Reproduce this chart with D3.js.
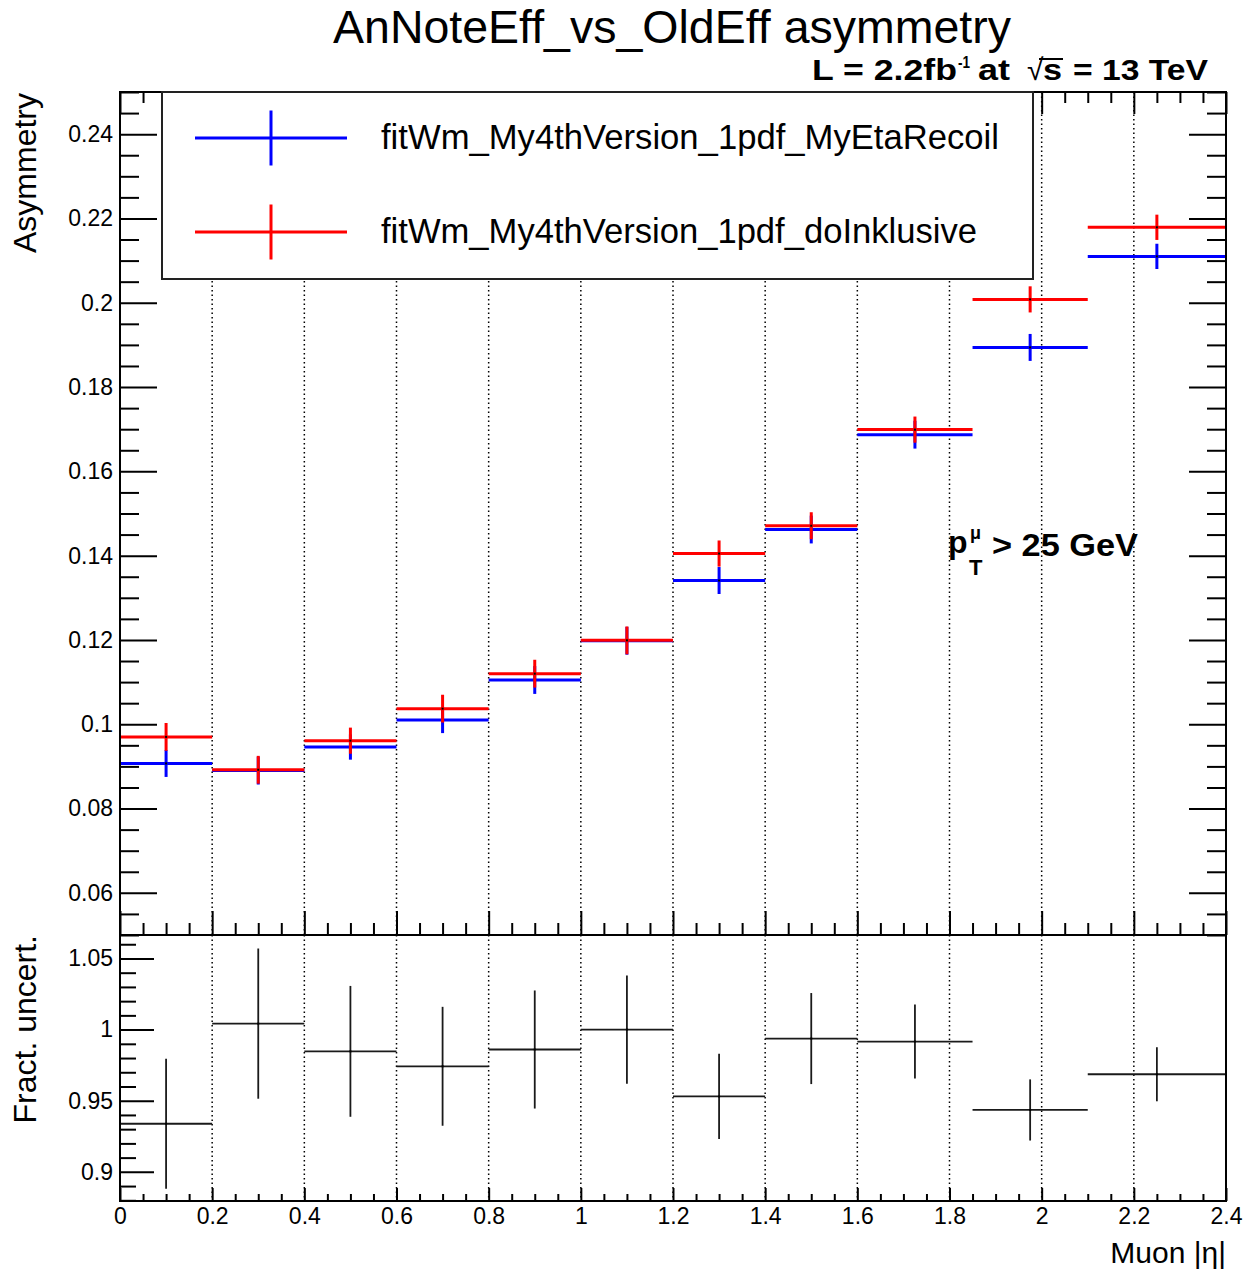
<!DOCTYPE html>
<html><head><meta charset="utf-8">
<script src="https://cdn.jsdelivr.net/npm/d3@7"></script>
<style>
body{margin:0;background:#fff}
text{font-family:"Liberation Sans",Arial,Helvetica,sans-serif}
</style>
</head><body>
<svg id="c" width="1244" height="1271"></svg>
<script>
// ---------- data ----------
const binEdges   = [0, 0.2, 0.4, 0.6, 0.8, 1.0, 1.2, 1.4, 1.6, 1.85, 2.1, 2.4];
const binCenters = [0.1, 0.3, 0.5, 0.7, 0.9, 1.1, 1.3, 1.5, 1.725, 1.975, 2.25];
const asymMyEtaRecoil    = [0.0907, 0.0890, 0.0946, 0.1010, 0.1105, 0.1198, 0.1341, 0.1462, 0.1687, 0.1894, 0.2110];
const asymMyEtaRecoilErr = [0.0032, 0.0033, 0.0030, 0.0031, 0.0033, 0.0033, 0.0032, 0.0033, 0.0033, 0.0032, 0.0030];
const asymDoInklusive    = [0.0970, 0.0892, 0.0961, 0.1037, 0.1120, 0.1199, 0.1405, 0.1471, 0.1699, 0.2008, 0.2179];
const asymDoInklusiveErr = [0.0033, 0.0033, 0.0031, 0.0033, 0.0033, 0.0033, 0.0031, 0.0032, 0.0031, 0.0031, 0.0030];
const fractUncert    = [0.9338, 1.0042, 0.9847, 0.9742, 0.9860, 1.0000, 0.9530, 0.9937, 0.9916, 0.9435, 0.9686];
const fractUncertErr = [0.0457, 0.0528, 0.0460, 0.0418, 0.0415, 0.0380, 0.0300, 0.0320, 0.0260, 0.0215, 0.0190];
const seriesNames = ["fitWm_My4thVersion_1pdf_MyEtaRecoil", "fitWm_My4thVersion_1pdf_doInklusive"];
const seriesColors = ["#0000ff", "#ff0000"];
const xTickValues = [0, 0.2, 0.4, 0.6, 0.8, 1.0, 1.2, 1.4, 1.6, 1.8, 2.0, 2.2, 2.4];
const xGridValues = [0.2, 0.4, 0.6, 0.8, 1.0, 1.2, 1.4, 1.6, 1.8, 2.0, 2.2];
const upperYTicks = [0.06, 0.08, 0.10, 0.12, 0.14, 0.16, 0.18, 0.20, 0.22, 0.24];
const lowerYTicks = [0.90, 0.95, 1.00, 1.05];

// ---------- layout ----------
const FONT = '"Liberation Sans",Arial,Helvetica,sans-serif';
const L = 120, R = 1226, TU = 92, MID = 935, BL = 1201;
const svg = d3.select("#c");
svg.append("rect").attr("width",1244).attr("height",1271).attr("fill","#fff");

const x  = d3.scaleLinear().domain([0, 2.4]).range([L, R]);
const yU = d3.scaleLinear().domain([0.05, 0.25]).range([MID, TU]);
const yL = d3.scaleLinear().domain([0.8795, 1.0665]).range([BL, MID]);

function minorTicks(lo, hi, step, majorStep){
  return d3.range(Math.round((hi-lo)/step)+1).map(i => lo + i*step)
    .filter(v => Math.abs(v/majorStep - Math.round(v/majorStep)) > 1e-6);
}
const fmt = d => String(+d.toFixed(2));

function styleAxis(g, withText){
  g.select(".domain").remove();
  g.selectAll(".tick line").attr("stroke","#000").attr("stroke-width",2);
  g.attr("font-family", FONT).attr("font-size", 23);
  g.selectAll(".tick text").attr("fill","#000");
  if(!withText) g.selectAll(".tick text").remove();
}
function addAxis(axis, tx, ty, withText){
  const g = svg.append("g").attr("transform",`translate(${tx},${ty})`).call(axis);
  styleAxis(g, withText);
  return g;
}

// ---------- grids ----------
const grid = svg.append("g").attr("stroke","#000").attr("stroke-width",1.5).attr("stroke-dasharray","1.5,3");
xGridValues.forEach(v => {
  grid.append("line").attr("x1",x(v)).attr("x2",x(v)).attr("y1",TU).attr("y2",MID);
  grid.append("line").attr("x1",x(v)).attr("x2",x(v)).attr("y1",MID).attr("y2",BL);
});

// ---------- data marks ----------
function drawSeries(vals, errs, color, yScale, width){
  const g = svg.append("g").attr("stroke",color).attr("stroke-width",width).attr("fill","none");
  vals.forEach((v,i) => {
    g.append("line").attr("x1",x(binEdges[i])).attr("x2",x(binEdges[i+1])).attr("y1",yScale(v)).attr("y2",yScale(v));
    g.append("line").attr("x1",x(binCenters[i])).attr("x2",x(binCenters[i])).attr("y1",yScale(v-errs[i])).attr("y2",yScale(v+errs[i]));
  });
  const m = svg.append("g").attr("fill","#000");
  vals.forEach((v,i) => m.append("rect").attr("x",x(binCenters[i])-1).attr("y",yScale(v)-1).attr("width",2).attr("height",2));
}
drawSeries(asymMyEtaRecoil, asymMyEtaRecoilErr, seriesColors[0], yU, 3);
drawSeries(asymDoInklusive, asymDoInklusiveErr, seriesColors[1], yU, 3);
drawSeries(fractUncert, fractUncertErr, "#1a1a1a", yL, 1.8);

// ---------- axes upper ----------
addAxis(d3.axisLeft(yU).tickValues(upperYTicks).tickSizeInner(-37).tickSizeOuter(0).tickPadding(7).tickFormat(fmt), L, 0, true);
addAxis(d3.axisLeft(yU).tickValues(minorTicks(0.05,0.25,0.005,0.02)).tickSizeInner(-19).tickSizeOuter(0), L, 0, false);
addAxis(d3.axisRight(yU).tickValues(upperYTicks).tickSizeInner(-37).tickSizeOuter(0), R, 0, false);
addAxis(d3.axisRight(yU).tickValues(minorTicks(0.05,0.25,0.005,0.02)).tickSizeInner(-19).tickSizeOuter(0), R, 0, false);
addAxis(d3.axisTop(x).tickValues(xTickValues).tickSizeInner(-22).tickSizeOuter(0), 0, TU, false);
addAxis(d3.axisTop(x).tickValues(minorTicks(0,2.4,0.05,0.2)).tickSizeInner(-11).tickSizeOuter(0), 0, TU, false);
addAxis(d3.axisBottom(x).tickValues(xTickValues).tickSizeInner(-24).tickSizeOuter(0), 0, MID, false);
addAxis(d3.axisBottom(x).tickValues(minorTicks(0,2.4,0.05,0.2)).tickSizeInner(-12).tickSizeOuter(0), 0, MID, false);

// ---------- axes lower ----------
addAxis(d3.axisLeft(yL).tickValues(lowerYTicks).tickSizeInner(-34).tickSizeOuter(0).tickPadding(7).tickFormat(fmt), L, 0, true);
addAxis(d3.axisLeft(yL).tickValues(minorTicks(0.88,1.06,0.01,0.05)).tickSizeInner(-16).tickSizeOuter(0), L, 0, false);
addAxis(d3.axisBottom(x).tickValues(xTickValues).tickSizeInner(-13).tickSizeOuter(0).tickPadding(7).tickFormat(fmt), 0, BL, true);
addAxis(d3.axisBottom(x).tickValues(minorTicks(0,2.4,0.05,0.2)).tickSizeInner(-7).tickSizeOuter(0), 0, BL, false);

// ---------- frames ----------
svg.append("rect").attr("x",L).attr("y",TU).attr("width",R-L).attr("height",MID-TU).attr("fill","none").attr("stroke","#000").attr("stroke-width",2);
svg.append("rect").attr("x",L).attr("y",MID).attr("width",R-L).attr("height",BL-MID).attr("fill","none").attr("stroke","#000").attr("stroke-width",2);

// ---------- legend ----------
const lg = svg.append("g");
lg.append("rect").attr("x",162).attr("y",TU).attr("width",1033-162).attr("height",279-TU)
  .attr("fill","#fff").attr("stroke","#222").attr("stroke-width",2);
const legY = [138, 232], legBase = [149, 243], legLen = [618, 596];
seriesNames.forEach((name,i) => {
  lg.append("line").attr("x1",195).attr("x2",347).attr("y1",legY[i]).attr("y2",legY[i]).attr("stroke",seriesColors[i]).attr("stroke-width",3);
  lg.append("line").attr("x1",271).attr("x2",271).attr("y1",legY[i]-27.5).attr("y2",legY[i]+27.5).attr("stroke",seriesColors[i]).attr("stroke-width",3);
  lg.append("text").attr("x",381).attr("y",legBase[i]).attr("font-size",34.5).attr("fill","#000")
    .attr("textLength",legLen[i]).attr("lengthAdjust","spacingAndGlyphs").text(name);
});

// ---------- texts ----------
svg.append("text").attr("x",672).attr("y",43).attr("text-anchor","middle").attr("font-size",46).attr("fill","#000")
  .attr("textLength",678).attr("lengthAdjust","spacingAndGlyphs")
  .text("AnNoteEff_vs_OldEff asymmetry");

const lumG = svg.append("g").attr("font-size",30).attr("font-weight","bold").attr("fill","#000");
lumG.append("text").attr("x",812).attr("y",80).attr("textLength",145).attr("lengthAdjust","spacingAndGlyphs").text("L = 2.2fb");
lumG.append("text").attr("x",958).attr("y",68).attr("font-size",16).attr("textLength",12).attr("lengthAdjust","spacingAndGlyphs").text("-1");
lumG.append("text").attr("x",978).attr("y",80).attr("textLength",32).attr("lengthAdjust","spacingAndGlyphs").text("at");
lumG.append("text").attr("x",1027).attr("y",80).attr("font-weight","normal").attr("font-size",30).text("\u221A");
lumG.append("text").attr("x",1043).attr("y",80).attr("textLength",19).attr("lengthAdjust","spacingAndGlyphs").text("s");
lumG.append("line").attr("x1",1039).attr("x2",1063).attr("y1",59).attr("y2",59).attr("stroke","#000").attr("stroke-width",2);
lumG.append("text").attr("x",1073).attr("y",80).attr("textLength",135).attr("lengthAdjust","spacingAndGlyphs").text("= 13 TeV");

svg.append("text").attr("x",948).attr("y",553).attr("font-size",32).attr("font-weight","bold").text("p");
svg.append("text").attr("x",970).attr("y",539).attr("font-size",18).attr("font-weight","bold").text("\u03BC");
svg.append("text").attr("x",969).attr("y",575).attr("font-size",22).attr("font-weight","bold").text("T");
svg.append("text").attr("x",992).attr("y",556).attr("font-size",32).attr("font-weight","bold")
  .attr("textLength",146).attr("lengthAdjust","spacingAndGlyphs").text("> 25 GeV");

svg.append("text").attr("transform","translate(36,93) rotate(-90)").attr("text-anchor","end")
  .attr("font-size",32).attr("fill","#000").text("Asymmetry");
svg.append("text").attr("transform","translate(36,935) rotate(-90)").attr("text-anchor","end")
  .attr("font-size",32).attr("fill","#000").text("Fract. uncert.");
svg.append("text").attr("x",1226).attr("y",1263).attr("text-anchor","end")
  .attr("font-size",30).attr("fill","#000").text("Muon |\u03B7|");
</script>
</body></html>
